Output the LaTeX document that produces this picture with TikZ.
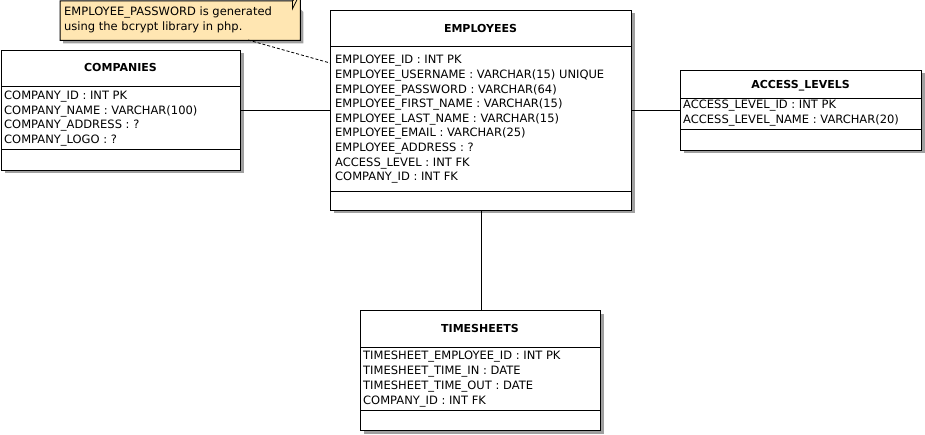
\documentclass[tikz,border=0pt]{standalone}
\usepackage{fontspec}
\setmainfont{DejaVu Sans}
\usetikzlibrary{shadows}
\definecolor{notefill}{RGB}{255,230,178}
\definecolor{shadowgray}{RGB}{160,160,160}
\tikzset{
  tbl/.style={draw=black, fill=white, line width=1pt, inner sep=0pt, anchor=north west,
    drop shadow={shadow xshift=3pt, shadow yshift=-3pt, fill=shadowgray, opacity=1}},
  ttl/.style={font=\fontsize{11}{13}\selectfont\bfseries, inner sep=0pt, anchor=base},
  row/.style={font=\fontsize{11.5}{13}\selectfont, anchor=base west, inner sep=0pt},
  sepline/.style={line width=1pt},
  conn/.style={line width=1pt},
}
\begin{document}
\begin{tikzpicture}[x=1pt,y=-1pt]
\useasboundingbox (0,0) rectangle (925,435);

% ---------- note ----------
\node[inner sep=0pt, minimum width=240pt, minimum height=39pt, anchor=north west] (note) at (60,1) {};
\fill[shadowgray] ([shift={(3,3)}]note.north west) -- ([shift={(-5,3)}]note.north east) -- ([shift={(3,11)}]note.north east) -- ([shift={(3,3)}]note.south east) -- ([shift={(3,3)}]note.south west) -- cycle;
\filldraw[fill=notefill, draw=black, line width=1pt] (note.north west) -- ([xshift=-8]note.north east) -- ([yshift=8]note.north east) -- (note.south east) -- (note.south west) -- cycle;
\draw[line width=0.8pt] ([xshift=-8]note.north east) -- ([shift={(-8,8)}]note.north east) -- ([yshift=8]note.north east);
\node[row] (n1) at (64,16) {EMPLOYEE\_PASSWORD is generated};
\node[row] (n2) at (64,31) {using the bcrypt library in php.};

% ---------- COMPANIES ----------
\node[tbl, minimum width=239pt, minimum height=120pt] (companies) at (1,50) {};
\draw[sepline] (1,87) -- (240,87);
\draw[sepline] (1,150) -- (240,150);
\node[ttl] (ct) at (120.5,72) {COMPANIES};
\node[row] (c1) at (4,100) {COMPANY\_ID : INT PK};
\node[row] (c2) at (4,114.5) {COMPANY\_NAME : VARCHAR(100)};
\node[row] (c3) at (4,129) {COMPANY\_ADDRESS : ?};
\node[row] (c4) at (4,143.5) {COMPANY\_LOGO : ?};

% ---------- EMPLOYEES ----------
\node[tbl, minimum width=301pt, minimum height=200pt] (employees) at (330,10) {};
\draw[sepline] (330,47) -- (631,47);
\draw[sepline] (330,192) -- (631,192);
\node[ttl] (et) at (480.5,33) {EMPLOYEES};
\node[row] (e1) at (335,64) {EMPLOYEE\_ID : INT PK};
\node[row] (e2) at (335,78.6) {EMPLOYEE\_USERNAME : VARCHAR(15) UNIQUE};
\node[row] (e3) at (335,93.2) {EMPLOYEE\_PASSWORD : VARCHAR(64)};
\node[row] (e4) at (335,107.8) {EMPLOYEE\_FIRST\_NAME : VARCHAR(15)};
\node[row] (e5) at (335,122.4) {EMPLOYEE\_LAST\_NAME : VARCHAR(15)};
\node[row] (e6) at (335,137) {EMPLOYEE\_EMAIL : VARCHAR(25)};
\node[row] (e7) at (335,151.6) {EMPLOYEE\_ADDRESS : ?};
\node[row] (e8) at (335,166.2) {ACCESS\_LEVEL : INT FK};
\node[row] (e9) at (335,180.8) {COMPANY\_ID : INT FK};

% ---------- ACCESS_LEVELS ----------
\node[tbl, minimum width=241pt, minimum height=80pt] (access) at (680,70) {};
\draw[sepline] (680,99) -- (921,99);
\draw[sepline] (680,130) -- (921,130);
\node[ttl] (at) at (800.5,89) {ACCESS\_LEVELS};
\node[row] (a1) at (683,108.5) {ACCESS\_LEVEL\_ID : INT PK};
\node[row] (a2) at (683,124) {ACCESS\_LEVEL\_NAME : VARCHAR(20)};

% ---------- TIMESHEETS ----------
\node[tbl, minimum width=240pt, minimum height=120pt] (timesheets) at (360,310) {};
\draw[sepline] (360,347) -- (600,347);
\draw[sepline] (360,410) -- (600,410);
\node[ttl] (tt) at (480,332.5) {TIMESHEETS};
\node[row] (t1) at (363,359) {TIMESHEET\_EMPLOYEE\_ID : INT PK};
\node[row] (t2) at (363,374) {TIMESHEET\_TIME\_IN : DATE};
\node[row] (t3) at (363,389) {TIMESHEET\_TIME\_OUT : DATE};
\node[row] (t4) at (363,404) {COMPANY\_ID : INT FK};

% ---------- connectors ----------
\coordinate (nanchor) at (248,40);
\coordinate (eanchor) at (330,63);
\draw[line width=0.8pt, dash pattern=on 3pt off 2pt] (nanchor) -- (eanchor);
\draw[conn] (companies.east |- employees.west) -- (employees.west);
\draw[conn] (employees.east) -- (access.west);
\draw[conn] (employees.south) -- (timesheets.north -| employees.south);
\end{tikzpicture}
\end{document}
